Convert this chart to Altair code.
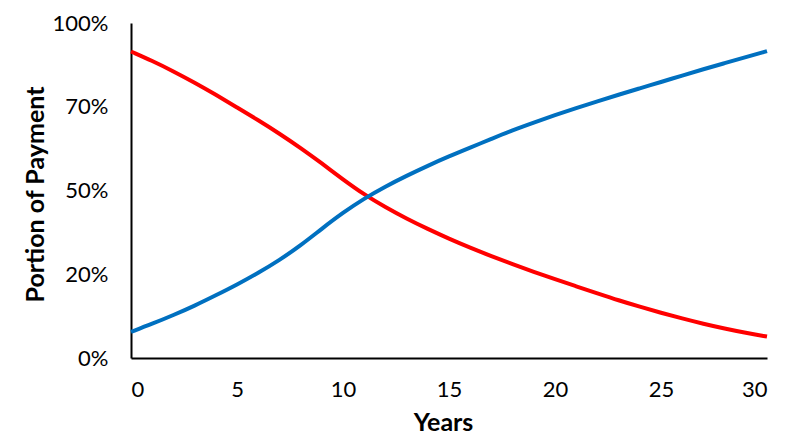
import altair as alt
import pandas as pd

years = list(range(0, 31))
interest = [91.5, 88.7, 85.6, 82.2, 78.6, 74.8, 71.0, 67.0, 62.7, 58.1, 53.3,
            48.8, 45.0, 41.6, 38.5, 35.6, 32.9, 30.4, 28.0, 25.7, 23.5,
            21.4, 19.3, 17.2, 15.3, 13.5, 11.8, 10.2, 8.8, 7.5, 6.4]
principal = [7.8, 10.2, 12.8, 15.6, 18.7, 21.9, 25.4, 29.2, 33.6, 38.6, 43.4,
             47.6, 51.2, 54.4, 57.4, 60.2, 62.8, 65.4, 68.0, 70.3, 72.5,
             74.6, 76.6, 78.6, 80.5, 82.4, 84.3, 86.2, 88.0, 89.8, 91.6]
series_names = ["Interest", "Principal"]
series_colors = ["#FF0000", "#0070C0"]
y_ticks = [0, 25, 50, 75, 100]
y_tick_labels = ["0%", "20%", "50%", "70%", "100%"]

rows = []
for i, y in enumerate(years):
    rows.append({"Years": y, "Value": interest[i], "Series": series_names[0], "order": 0})
    rows.append({"Years": y, "Value": principal[i], "Series": series_names[1], "order": 1})
df = pd.DataFrame(rows)

label_expr = " : ".join(
    f"datum.value == {v} ? '{l}'" for v, l in zip(y_ticks, y_tick_labels)
) + " : ''"

font = "Lato"

chart = alt.Chart(df).mark_line(strokeWidth=4, interpolate="basis").encode(
    x=alt.X("Years:Q", scale=alt.Scale(domain=[0, 30], nice=False),
            axis=alt.Axis(values=[0, 5, 10, 15, 20, 25, 30], title="Years",
                          grid=False, ticks=False, domainColor="black", domainWidth=2,
                          labelFontSize=22, labelColor="black", labelPadding=21,
                          labelFont=font, titleFont=font, titleFontSize=25,
                          titleFontWeight="bold", titleColor="black", titlePadding=10,
                          titleX=312)),
    y=alt.Y("Value:Q", scale=alt.Scale(domain=[0, 100], nice=False),
            axis=alt.Axis(values=y_ticks, labelExpr=label_expr, title="Portion of Payment",
                          grid=False, ticks=False, domainColor="black", domainWidth=2,
                          labelFontSize=22, labelColor="black", labelPadding=23,
                          labelFont=font, titleFont=font, titleFontSize=25,
                          titleFontWeight="bold", titleColor="black", titlePadding=4,
                          titleY=171)),
    color=alt.Color("Series:N", scale=alt.Scale(domain=series_names, range=series_colors),
                    legend=None),
    order=alt.Order("order:Q"),
    detail="Series:N",
).properties(
    width=636, height=335,
    autosize=alt.AutoSizeParams(type="none"),
    padding={"left": 123, "top": 15, "right": 25, "bottom": 81},
).configure_view(stroke=None)

chart.save("out.html", embed_options={"renderer": "svg", "actions": False})
